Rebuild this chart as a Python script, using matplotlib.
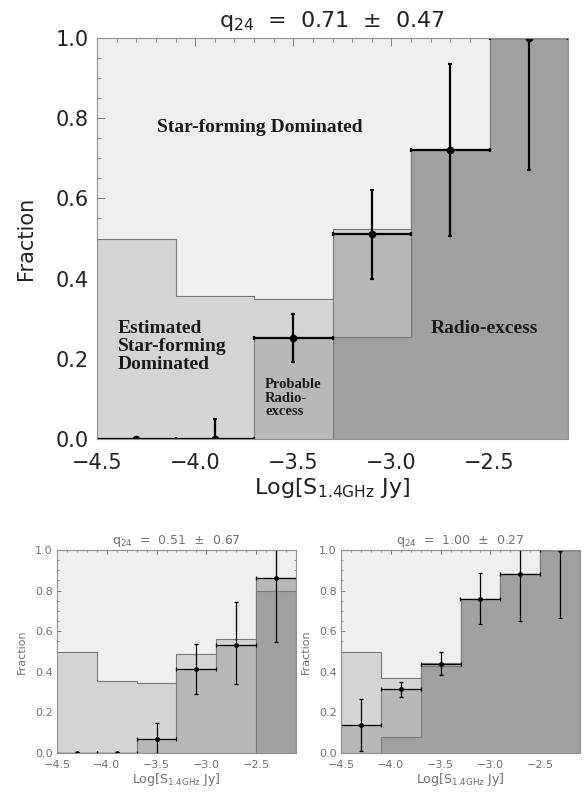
import matplotlib
matplotlib.use("Agg")
import matplotlib.pyplot as plt
import numpy as np
from matplotlib.ticker import MultipleLocator

# ---------------- data ----------------
bin_edges = [-4.5, -4.1, -3.7, -3.3, -2.9, -2.5, -2.1]
bin_centers = [-4.3, -3.9, -3.5, -3.1, -2.7, -2.3]

# main panel (q24 = 0.71 +/- 0.47)
main_title = r"q$_{24}$  =  0.71  $\pm$  0.47"
main_estimated = [0.50, 0.357, 0.348, 0.523, 0.72, 1.0]
main_probable = [0.0, 0.0, 0.251, 0.510, 0.72, 1.0]
main_radio = [0.0, 0.0, 0.0, 0.254, 0.72, 1.0]
main_frac = [0.0, 0.0, 0.251, 0.510, 0.720, 1.0]
main_err_lo = [0.0, 0.0, 0.060, 0.112, 0.215, 0.330]
main_err_hi = [0.0, 0.05, 0.060, 0.112, 0.215, 0.0]

# lower-left panel (q24 = 0.51 +/- 0.67)
left_title = r"q$_{24}$  =  0.51  $\pm$  0.67"
left_estimated = [0.50, 0.354, 0.346, 0.490, 0.560, 0.864]
left_probable = [0.0, 0.0, 0.070, 0.413, 0.533, 0.864]
left_radio = [0.0, 0.0, 0.0, 0.0, 0.0, 0.800]
left_frac = [0.0, 0.0, 0.070, 0.413, 0.533, 0.864]
left_err_lo = [0.0, 0.0, 0.070, 0.121, 0.195, 0.318]
left_err_hi = [0.0, 0.0, 0.078, 0.126, 0.210, 0.136]

# lower-right panel (q24 = 1.00 +/- 0.27)
right_title = r"q$_{24}$  =  1.00  $\pm$  0.27"
right_estimated = [0.50, 0.369, 0.443, 0.759, 0.880, 1.0]
right_probable = [0.136, 0.313, 0.438, 0.759, 0.880, 1.0]
right_radio = [0.0, 0.079, 0.431, 0.759, 0.880, 1.0]
right_frac = [0.136, 0.313, 0.438, 0.759, 0.880, 1.0]
right_err_lo = [0.128, 0.038, 0.056, 0.125, 0.231, 0.333]
right_err_hi = [0.130, 0.036, 0.059, 0.130, 0.120, 0.0]

xticks = [-4.5, -4.0, -3.5, -3.0, -2.5]
yticks = [0.0, 0.2, 0.4, 0.6, 0.8, 1.0]

# ---------------- style ----------------
C_BG = "#efefef"
C_EST = "#d4d4d4"
C_PROB = "#b8b8b8"
C_RAD = "#a0a0a0"
C_EDGE = "#7a7a7a"

plt.rcParams['font.family'] = ['DejaVu Sans']
plt.rcParams['mathtext.fontset'] = 'dejavusans'

fig = plt.figure(figsize=(5.87, 7.95), dpi=100)


def draw_panel(ax, est, prob, rad, frac, elo, ehi, title, fs, tfs, txtcol,
               lw_err, ms, tick_len, xpad, ypad, tpad, xlpad, ylpad):
    ax.set_facecolor(C_BG)
    ax.stairs(est, bin_edges, baseline=0, fill=True, facecolor=C_EST,
              edgecolor=C_EDGE, linewidth=0.8, zorder=2)
    ax.stairs(prob, bin_edges, baseline=0, fill=True, facecolor=C_PROB,
              edgecolor=C_EDGE, linewidth=0.8, zorder=3)
    ax.stairs(rad, bin_edges, baseline=0, fill=True, facecolor=C_RAD,
              edgecolor=C_EDGE, linewidth=0.8, zorder=4)
    ax.errorbar(bin_centers, frac, xerr=0.2, yerr=[elo, ehi], fmt='o',
                color='black', ms=ms, elinewidth=lw_err, capsize=1.5,
                capthick=lw_err, zorder=6)
    ax.set_xlim(bin_edges[0], bin_edges[-1])
    ax.set_ylim(0, 1.0)
    ax.set_xticks(xticks)
    ax.set_xticklabels([f"\u2212{abs(v):.1f}" for v in xticks])
    ax.set_yticks(yticks)
    ax.set_yticklabels([f"{v:.1f}" for v in yticks])
    ax.xaxis.set_minor_locator(MultipleLocator(0.1))
    ax.yaxis.set_minor_locator(MultipleLocator(0.05))
    ax.tick_params(which='both', direction='in', top=True, right=True,
                   color='#808080', labelsize=fs, labelcolor=txtcol)
    ax.tick_params(which='major', length=tick_len, width=0.7)
    ax.tick_params(which='minor', length=tick_len * 0.5, width=0.6)
    ax.tick_params(axis='x', which='major', pad=xpad)
    ax.tick_params(axis='y', which='major', pad=ypad)
    for sp in ax.spines.values():
        sp.set_color('#909090')
        sp.set_linewidth(0.8)
        sp.set_zorder(7)
    ax.set_title(title, fontsize=tfs, color=txtcol, pad=tpad)
    ax.set_xlabel(r"Log[S$_{\rm 1.4GHz}$ Jy]", fontsize=tfs, color=txtcol,
                  labelpad=xlpad)
    ax.set_ylabel("Fraction", fontsize=fs, color=txtcol, labelpad=ylpad)


# main panel
ax = fig.add_axes([97 / 587, 1 - 439 / 795, 471 / 587, 401 / 795])
draw_panel(ax, main_estimated, main_probable, main_radio, main_frac,
           main_err_lo, main_err_hi, main_title, 15, 16, '#222222',
           1.6, 4.5, 6, 10, 6, 8, 2, 14)

serif = ['Liberation Serif', 'DejaVu Serif']
ax.text(-3.672, 0.778, "Star-forming Dominated", family=serif, weight='bold',
        fontsize=14, ha='center', va='center', color='#1a1a1a', zorder=8)
ax.text(-4.395, 0.231, "Estimated\nStar-forming\nDominated", family=serif,
        weight='bold', fontsize=14, ha='left', va='center', color='#1a1a1a',
        linespacing=1.1, zorder=8)
ax.text(-3.643, 0.102, "Probable\nRadio-\nexcess", family=serif, weight='bold',
        fontsize=10.5, ha='left', va='center', color='#1a1a1a', linespacing=1.05,
        zorder=8)
ax.text(-2.525, 0.276, "Radio-excess", family=serif, weight='bold',
        fontsize=14, ha='center', va='center', color='#1a1a1a', zorder=8)

# lower panels
axl = fig.add_axes([57 / 587, 1 - 753 / 795, 239 / 587, 203 / 795])
draw_panel(axl, left_estimated, left_probable, left_radio, left_frac,
           left_err_lo, left_err_hi, left_title, 8, 9, '#707070',
           0.9, 2.5, 3, 5, 3, 4, 1, 6)

axr = fig.add_axes([341 / 587, 1 - 753 / 795, 239 / 587, 203 / 795])
draw_panel(axr, right_estimated, right_probable, right_radio, right_frac,
           right_err_lo, right_err_hi, right_title, 8, 9, '#707070',
           0.9, 2.5, 3, 5, 3, 4, 1, 6)

fig.savefig("out.png", dpi=100)
